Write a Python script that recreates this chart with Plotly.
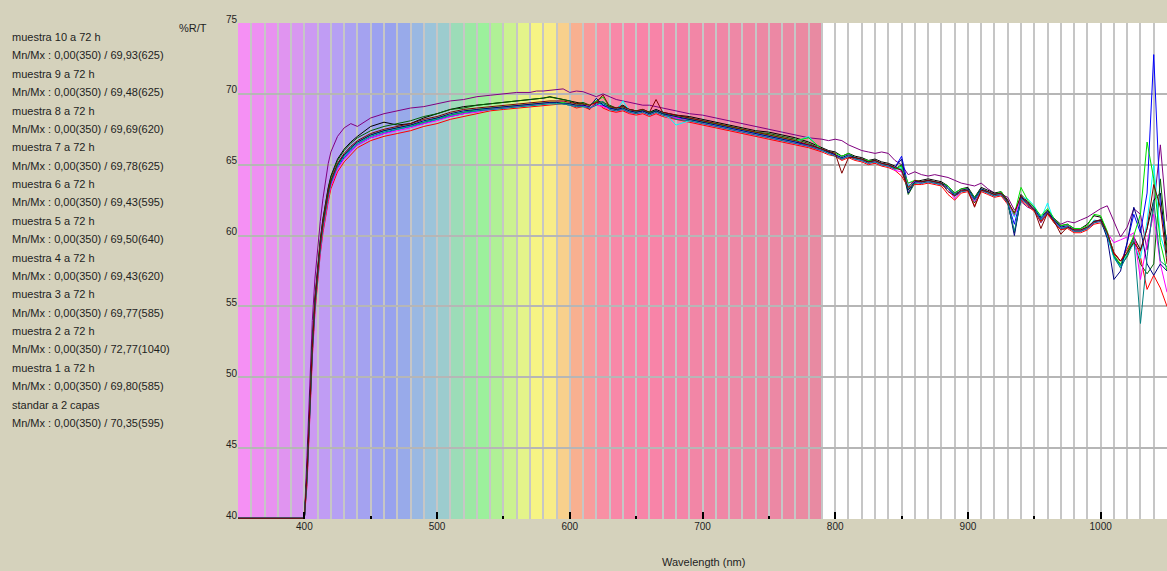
import numpy as np
import plotly.graph_objects as go

# ---------------- data ----------------
wavelength = [350, 398, 400, 402, 404, 406, 408, 410, 412, 414, 416, 418, 420, 425, 430, 435,
              440, 450, 460, 470, 480, 490, 500, 510, 520, 530, 540, 550, 560, 570,
              575, 580, 585, 590, 595, 600, 605, 610, 615, 620, 625, 630, 635, 640, 645, 650,
              655, 660, 665, 670, 675, 680,
              690, 700, 710, 720, 730, 740, 750, 760, 770, 780, 790,
              795, 800, 805, 810, 815, 820, 825, 830, 835, 840, 845, 850, 855, 860, 865, 870,
              875, 880, 885, 890, 895, 900, 905, 910, 915, 920, 925, 930, 935, 940, 945, 950,
              955, 960, 965, 970, 975, 980, 985, 990, 995, 1000, 1005, 1010, 1015, 1020, 1025,
              1030, 1035, 1040, 1045, 1050]

standar = [0, 0, 30, 44.5, 50.0, 54.0, 57.0, 59.2, 61.0, 62.6, 64.0, 65.1, 65.9, 67.0, 67.6, 67.9,
           67.7, 68.3, 68.6, 68.8, 69.0, 69.1, 69.3, 69.5, 69.6, 69.8, 69.9, 70.0, 70.1, 70.1,
           70.2, 70.2, 70.25, 70.3, 70.35, 70.1, 70.2, 70.15, 70.0, 69.8, 70.0, 69.8, 69.6, 69.5, 69.4, 69.3,
           69.2, 69.2, 69.1, 69.0, 68.9, 68.8,
           68.6, 68.5, 68.3, 68.1, 67.9, 67.7, 67.5, 67.3, 67.1, 66.9, 66.8,
           66.7, 66.8, 66.7, 66.4, 66.2, 66.0, 65.9, 65.8, 65.9, 65.8, 65.3, 65.0, 64.3, 64.5, 64.3, 64.2,
           64.3, 64.2, 64.1, 63.9, 63.7, 63.6, 63.5, 63.7, 63.3, 63.0, 62.9, 62.7, 61.8, 62.4, 62.0, 61.8,
           60.9, 61.6, 61.2, 60.8, 61.0, 60.9, 61.1, 61.3, 61.6, 61.9, 62.1, 61.0, 59.9, 60.6, 61.9,
           61.5, 59.0, 62.0, 66.4, 61.0]

muestra_1 = [0, 0, 28, 43.5, 48.5, 52.5, 55.6, 57.9, 59.7, 61.2, 62.4, 63.4, 64.2, 65.4, 66.1, 66.6,
             67.0, 67.7, 68.0, 67.8, 67.9, 68.3, 68.6, 68.9, 69.1, 69.2, 69.3, 69.4, 69.5, 69.6,
             69.6, 69.7, 69.80, 69.7, 69.6, 69.5, 69.4, 69.3, 68.9, 69.4, 69.3, 69.1, 69.0, 69.2, 68.9, 68.8,
             68.9, 68.7, 68.9, 68.7, 68.6, 68.5,
             68.4, 68.2, 68.0, 67.8, 67.6, 67.4, 67.3, 67.1, 66.9, 66.6, 66.2,
             66.0, 65.9, 65.6, 65.8, 65.6, 65.5, 65.3, 65.4, 65.2, 65.1, 64.9, 64.6, 63.2, 63.8, 63.9, 64.0,
             63.9, 63.8, 63.5, 63.0, 63.3, 63.4, 62.7, 63.4, 63.2, 63.0, 63.1, 62.5, 61.4, 62.9, 62.4, 62.0,
             61.3, 61.8, 61.2, 60.7, 60.8, 60.5, 60.5, 60.8, 61.4, 61.3, 60.2, 58.8, 58.2, 58.8, 59.9,
             59.0, 60.5, 62.5, 63.0, 58.5]

muestra_2 = [0, 0, 27, 42.8, 47.8, 51.8, 55.0, 57.3, 59.1, 60.6, 61.8, 62.8, 63.6, 64.8, 65.5, 66.0,
             66.4, 66.9, 67.2, 67.5, 67.7, 67.9, 68.2, 68.4, 68.6, 68.8, 68.9, 69.0, 69.1, 69.2,
             69.2, 69.3, 69.3, 69.4, 69.3, 69.2, 69.1, 69.2, 69.0, 69.3, 69.2, 69.0, 68.9, 68.9, 68.7, 68.7,
             68.8, 68.6, 68.8, 68.6, 68.4, 68.3,
             68.2, 68.0, 67.8, 67.6, 67.4, 67.2, 67.0, 66.8, 66.6, 66.3, 66.0,
             65.8, 65.7, 65.4, 65.6, 65.4, 65.3, 65.1, 65.2, 65.0, 64.9, 64.8, 65.6, 63.5, 63.8, 63.7, 63.8,
             63.7, 63.6, 63.3, 62.8, 63.1, 63.2, 62.5, 63.2, 63.0, 62.8, 62.9, 62.3, 60.8, 62.7, 62.2, 61.8,
             61.1, 61.6, 61.0, 60.5, 60.6, 60.3, 60.3, 60.5, 60.9, 61.1, 60.0, 58.5, 57.8, 59.5, 61.5,
             60.2, 63.0, 72.77, 62.0, 59.6]

muestra_3 = [0, 0, 27, 43.2, 48.3, 52.3, 55.5, 57.8, 59.6, 61.1, 62.3, 63.3, 64.1, 65.3, 66.0, 66.5,
             66.9, 67.4, 67.7, 67.9, 68.1, 68.4, 68.6, 68.9, 69.0, 69.2, 69.3, 69.4, 69.5, 69.6,
             69.6, 69.7, 69.77, 69.7, 69.6, 69.5, 69.3, 69.4, 69.2, 69.5, 69.4, 69.2, 69.0, 69.1, 68.9, 68.8,
             68.8, 68.7, 68.8, 68.6, 68.5, 68.5,
             68.3, 68.1, 67.9, 67.7, 67.5, 67.3, 67.2, 67.0, 66.8, 66.5, 66.1,
             65.9, 65.7, 65.4, 65.6, 65.5, 65.3, 65.2, 65.2, 65.0, 64.9, 64.7, 65.0, 62.9, 63.7, 63.8, 63.8,
             63.7, 63.6, 63.3, 62.8, 63.1, 63.2, 62.3, 63.2, 63.0, 62.8, 62.9, 62.3, 60.2, 62.6, 62.2, 61.8,
             61.0, 61.6, 60.9, 60.4, 60.6, 60.3, 60.3, 60.5, 61.0, 61.1, 60.0, 58.6, 57.9, 58.5, 59.6,
             58.0, 57.3, 58.0, 64.0, 59.0]

muestra_4 = [0, 0, 25, 42.4, 47.4, 51.4, 54.6, 56.9, 58.7, 60.2, 61.4, 62.4, 63.3, 64.5, 65.2, 65.7,
             66.2, 66.7, 67.0, 67.2, 67.4, 67.7, 67.9, 68.2, 68.4, 68.6, 68.8, 68.9, 69.0, 69.1,
             69.1, 69.2, 69.2, 69.3, 69.3, 69.2, 69.0, 69.1, 68.9, 69.43, 69.0, 68.8, 68.7, 68.8, 68.6, 68.5,
             68.6, 68.4, 68.6, 68.4, 68.3, 68.2,
             68.0, 67.8, 67.6, 67.4, 67.2, 67.0, 66.8, 66.6, 66.4, 66.2, 65.9,
             65.7, 65.6, 65.3, 65.5, 65.3, 65.2, 65.0, 65.1, 64.9, 64.8, 64.6, 64.2, 63.4, 63.6, 63.6, 63.7,
             63.6, 63.5, 62.9, 62.5, 63.0, 63.1, 62.1, 63.1, 62.9, 62.7, 62.8, 62.2, 61.6, 62.5, 62.1, 61.7,
             61.0, 61.5, 60.9, 60.4, 60.5, 60.2, 60.2, 60.4, 60.8, 60.9, 60.1, 58.8, 58.2, 59.0, 59.9,
             58.5, 56.2, 57.2, 56.3, 55.0]

muestra_5 = [0, 0, 27, 42.9, 47.9, 51.9, 55.1, 57.4, 59.2, 60.7, 61.9, 62.9, 63.7, 64.9, 65.6, 66.1,
             66.5, 67.0, 67.3, 67.5, 67.7, 68.0, 68.2, 68.5, 68.7, 68.8, 68.9, 69.0, 69.1, 69.2,
             69.2, 69.3, 69.3, 69.3, 69.3, 69.2, 69.1, 69.1, 69.0, 69.2, 69.3, 68.9, 68.8, 69.50, 68.8, 68.6,
             68.7, 68.5, 68.7, 68.5, 68.3, 67.8,
             68.1, 68.0, 67.8, 67.6, 67.4, 67.2, 67.0, 66.8, 66.6, 67.0, 66.0,
             65.8, 65.7, 65.5, 65.6, 65.4, 65.3, 65.1, 65.2, 65.0, 64.9, 64.7, 64.8, 63.5, 63.8, 63.7, 63.8,
             63.7, 63.6, 63.3, 62.9, 63.1, 63.2, 62.6, 63.2, 63.0, 62.8, 63.0, 62.3, 61.3, 62.7, 62.6, 62.1,
             61.2, 62.3, 61.0, 60.6, 60.6, 60.3, 60.3, 60.5, 61.1, 61.0, 60.0, 58.4, 57.8, 58.7, 59.4,
             58.4, 61.0, 65.0, 60.0, 58.5]

muestra_6 = [0, 0, 26, 42.6, 47.6, 51.6, 54.8, 57.1, 58.9, 60.4, 61.6, 62.6, 63.5, 64.7, 65.4, 65.9,
             66.4, 66.9, 67.2, 67.4, 67.6, 67.9, 68.1, 68.4, 68.6, 68.7, 68.9, 69.0, 69.1, 69.2,
             69.3, 69.3, 69.4, 69.4, 69.43, 69.3, 69.1, 69.2, 69.0, 69.2, 69.1, 68.9, 68.8, 68.9, 68.7, 68.6,
             68.7, 68.5, 68.7, 68.5, 68.4, 68.3,
             68.1, 67.9, 67.7, 67.5, 67.3, 67.1, 66.9, 66.7, 66.5, 66.3, 66.0,
             65.8, 65.7, 65.4, 65.6, 65.4, 65.3, 65.1, 65.2, 65.0, 64.9, 64.6, 64.5, 63.7, 63.8, 63.7, 63.8,
             63.7, 63.6, 63.3, 62.6, 63.1, 63.2, 62.4, 63.2, 63.0, 62.8, 62.9, 62.3, 61.4, 62.6, 62.2, 61.8,
             61.1, 61.6, 61.0, 60.5, 60.6, 60.3, 60.3, 60.5, 60.9, 61.0, 60.2, 59.5, 59.7, 59.9, 60.2,
             56.9, 59.5, 61.5, 58.0, 56.0]

muestra_7 = [0, 0, 26, 42.8, 47.8, 51.8, 55.0, 57.4, 59.2, 60.7, 61.9, 62.9, 63.8, 65.0, 65.7, 66.2,
             66.6, 67.1, 67.4, 67.6, 67.8, 68.0, 68.3, 68.5, 68.7, 68.9, 69.0, 69.1, 69.2, 69.3,
             69.3, 69.4, 69.4, 69.4, 69.4, 69.3, 69.2, 69.3, 69.2, 69.5, 69.78, 69.1, 68.9, 69.0, 68.8, 68.7,
             68.9, 68.6, 68.8, 68.6, 68.5, 68.4,
             68.2, 68.0, 67.9, 67.7, 67.5, 67.3, 67.1, 66.9, 66.7, 66.9, 66.1,
             65.9, 65.8, 65.6, 65.8, 65.5, 65.4, 65.3, 65.3, 65.1, 65.0, 64.7, 64.9, 63.7, 63.9, 63.8, 63.9,
             63.8, 63.7, 63.5, 63.0, 63.3, 63.3, 62.7, 63.3, 63.1, 62.9, 63.1, 62.4, 61.5, 63.4, 62.5, 62.0,
             61.4, 61.9, 61.2, 60.7, 60.8, 60.5, 60.5, 60.7, 61.5, 61.4, 60.3, 58.6, 58.0, 58.8, 60.0,
             61.5, 66.6, 64.0, 59.5, 57.5]

muestra_8 = [0, 0, 27, 43.0, 48.0, 52.0, 55.2, 57.5, 59.3, 60.8, 62.0, 63.0, 63.8, 65.0, 65.7, 66.2,
             66.6, 67.1, 67.4, 67.6, 67.8, 68.1, 68.3, 68.6, 68.8, 68.9, 69.0, 69.1, 69.2, 69.3,
             69.3, 69.4, 69.4, 69.4, 69.3, 69.3, 69.2, 69.2, 69.1, 69.69, 69.2, 69.0, 68.9, 69.0, 68.8, 68.7,
             68.8, 68.6, 68.8, 68.6, 68.5, 68.4,
             68.2, 68.0, 67.8, 67.6, 67.4, 67.2, 67.0, 66.8, 66.6, 66.4, 66.1,
             65.9, 65.7, 65.5, 65.7, 65.5, 65.4, 65.2, 65.3, 65.1, 65.0, 64.8, 65.4, 63.0, 63.8, 63.8, 63.9,
             63.8, 63.7, 63.4, 62.9, 63.2, 63.3, 62.6, 63.3, 63.1, 62.9, 63.0, 62.4, 60.0, 62.7, 62.3, 61.9,
             61.2, 61.7, 61.1, 60.6, 60.7, 60.4, 60.4, 60.6, 61.0, 61.1, 59.8, 56.9, 57.5, 59.5, 62.0,
             60.5, 58.0, 57.2, 58.0, 57.5]

muestra_9 = [0, 0, 26, 42.8, 47.8, 51.8, 55.0, 57.3, 59.1, 60.6, 61.8, 62.8, 63.7, 64.9, 65.6, 66.1,
             66.5, 67.0, 67.3, 67.5, 67.7, 68.0, 68.2, 68.5, 68.7, 68.8, 68.9, 69.0, 69.1, 69.2,
             69.2, 69.3, 69.3, 69.3, 69.3, 69.2, 69.1, 69.1, 69.0, 69.2, 69.48, 68.9, 68.8, 68.9, 68.7, 68.6,
             68.7, 68.5, 68.7, 68.5, 68.4, 68.2,
             68.1, 67.9, 67.7, 67.5, 67.3, 67.1, 66.9, 66.7, 66.5, 66.3, 66.0,
             65.8, 65.6, 65.4, 65.6, 65.4, 65.3, 65.1, 65.2, 65.0, 64.9, 64.7, 64.7, 63.3, 63.7, 63.7, 63.8,
             63.7, 63.6, 63.3, 62.8, 63.1, 63.2, 62.5, 63.2, 63.0, 62.8, 62.9, 62.3, 60.3, 62.6, 62.2, 61.8,
             61.1, 61.6, 61.0, 60.5, 60.6, 60.3, 60.3, 60.5, 60.9, 61.0, 60.1, 58.5, 57.7, 58.6, 59.8,
             53.8, 58.5, 62.5, 58.2, 57.8]

muestra_10 = [0, 0, 27, 43.1, 48.1, 52.1, 55.3, 57.6, 59.4, 60.9, 62.1, 63.1, 63.9, 65.1, 65.8, 66.3,
              66.7, 67.2, 67.5, 67.7, 67.9, 68.2, 68.4, 68.7, 68.9, 69.0, 69.1, 69.2, 69.3, 69.4,
              69.4, 69.5, 69.5, 69.5, 69.5, 69.4, 69.3, 69.3, 69.2, 69.4, 69.93, 69.1, 69.0, 69.1, 68.9, 68.8,
              68.9, 68.7, 69.6, 68.7, 68.6, 68.5,
              68.3, 68.1, 67.9, 67.7, 67.5, 67.3, 67.1, 66.9, 66.7, 66.4, 66.1,
              65.9, 65.8, 64.4, 65.5, 65.5, 65.4, 65.2, 65.3, 65.1, 65.0, 64.8, 64.6, 63.4, 63.9, 63.8, 63.9,
              63.8, 63.7, 63.1, 62.8, 63.2, 63.2, 62.0, 63.2, 63.1, 62.9, 63.0, 62.4, 61.6, 62.8, 62.3, 61.8,
              60.5, 61.6, 61.0, 60.1, 60.6, 60.4, 60.4, 60.6, 61.0, 61.1, 60.2, 58.7, 58.2, 58.8, 59.5,
              58.9, 60.5, 63.6, 62.0, 58.0]

series_names = ["muestra 10 a 72 h", "muestra 9 a 72 h", "muestra 8 a 72 h", "muestra 7 a 72 h",
                "muestra 6 a 72 h", "muestra 5 a 72 h", "muestra 4 a 72 h", "muestra 3 a 72 h",
                "muestra 2 a 72 h", "muestra 1 a 72 h", "standar a 2 capas"]
series_values = [muestra_10, muestra_9, muestra_8, muestra_7, muestra_6, muestra_5,
                 muestra_4, muestra_3, muestra_2, muestra_1, standar]
series_colors = ["#800000", "#008080", "#000080", "#00e000", "#ff00ff", "#00ffff",
                 "#ff0000", "#006400", "#0000ff", "#000000", "#800080"]

band_start = list(range(350, 790, 10))
band_colors = ["#f590f4", "#ee90f2", "#e892f0", "#e094f0", "#d898f0", "#cc9af2", "#c09cf4", "#b6a0f4",
               "#aca2f2", "#a4a2f0", "#9ca2f0", "#98a2ee", "#98aaea", "#9ab8e2", "#9cc4da", "#9cccce",
               "#9cdcb8", "#9ce8a4", "#9cf09c", "#b0f096", "#ccf290", "#e4f48a", "#f6f484", "#f8ec88",
               "#f8d08c", "#f8b090", "#f89c9c", "#f890a4", "#f888a8", "#f886a8", "#f884a8", "#f884a8",
               "#f484a8", "#f484a8", "#f286a6", "#f086a6", "#f086a6", "#ee88a6", "#ee88a4", "#ec88a4",
               "#ec88a4", "#ea8aa4", "#ea8aa2", "#e88aa2"]

x_major = [400, 500, 600, 700, 800, 900, 1000]
x_half = [450, 550, 650, 750, 850, 950]
y_ticks = [40, 45, 50, 55, 60, 65, 70, 75]
X_RANGE = [350, 1050]
Y_RANGE = [40, 75]

# ---------------- layout geometry ----------------
W, H = 1167, 571
L, T = 238, 23
PW, PH = 929, 496
B = T + PH
BG = "#d5d2bc"


def px_x(p):
    return (p - L) / PW


def px_y(p):
    return (B - p) / PH


fig = go.Figure()

order = list(range(len(series_values)))[::-1]
for i in order:
    y = np.clip(np.array(series_values[i], dtype=float), Y_RANGE[0] + 0.05, None)
    fig.add_trace(go.Scatter(x=wavelength, y=y, mode="lines", name=series_names[i],
                             line=dict(color=series_colors[i], width=1),
                             showlegend=False, hoverinfo="skip"))

# dummy trace for the overlay axis carrying the half-century ticks
fig.add_trace(go.Scatter(x=[None], y=[None], xaxis="x2", showlegend=False, hoverinfo="skip"))

shapes = []
for s, c in zip(band_start, band_colors):
    shapes.append(dict(type="rect", xref="x", yref="paper", x0=s, x1=s + 10, y0=0, y1=1,
                       fillcolor=c, line=dict(width=0), layer="below"))

font = "Liberation Sans, Arial, sans-serif"
txt_col = "#1e1e1e"

annotations = []
line_y0 = 37
line_step = 18.38
k = 0
for name, vals in zip(series_names, series_values):
    arr = np.array(vals, dtype=float)
    imax = int(np.argmax(arr))
    imin = int(np.argmin(arr))
    mn = f"{arr[imin]:.2f}".replace(".", ",")
    mx = f"{arr[imax]:.2f}".replace(".", ",")
    lines = [name, f"Mn/Mx : {mn}({wavelength[imin]}) / {mx}({wavelength[imax]})"]
    for t in lines:
        annotations.append(dict(text=t, xref="paper", yref="paper", x=px_x(10), y=px_y(line_y0 + k * line_step),
                                xanchor="left", yanchor="middle", showarrow=False,
                                font=dict(family=font, size=11, color=txt_col)))
        k += 1

annotations.append(dict(text="%R/T", xref="paper", yref="paper", x=px_x(193), y=px_y(28),
                        xanchor="center", yanchor="middle", showarrow=False,
                        font=dict(family=font, size=11, color=txt_col)))
annotations.append(dict(text="Wavelength (nm)", xref="paper", yref="paper", x=px_x(703), y=px_y(562),
                        xanchor="center", yanchor="middle", showarrow=False,
                        font=dict(family=font, size=11, color=txt_col)))

fig.update_layout(
    width=W, height=H,
    margin=dict(l=L, r=W - L - PW, t=T, b=H - B, pad=0),
    paper_bgcolor=BG,
    plot_bgcolor="#ffffff",
    shapes=shapes,
    annotations=annotations,
    showlegend=False,
    xaxis=dict(range=X_RANGE, tickvals=x_major, ticks="inside", ticklen=7, tickwidth=2,
               tickcolor="#000000", showgrid=True, gridcolor="#c6c6c6", gridwidth=1.5,
               minor=dict(dtick=10, tick0=350, showgrid=True, gridcolor="#c6c6c6", gridwidth=1.5, ticks=""),
               zeroline=False, showline=False,
               tickfont=dict(family=font, size=10, color=txt_col)),
    xaxis2=dict(range=X_RANGE, overlaying="x", anchor="y", side="bottom", tickvals=x_half,
                ticks="inside", ticklen=3, tickwidth=2, tickcolor="#000000",
                showticklabels=False, showgrid=False, zeroline=False, showline=False),
    yaxis=dict(range=Y_RANGE, tickvals=y_ticks, ticks="", showgrid=True, gridcolor="#b6b6b6",
               gridwidth=1.5, zeroline=False, showline=False, ticklabelshift=-4,
               tickfont=dict(family=font, size=10, color=txt_col)),
)

page_fix = ("document.body.style.margin='0';document.body.style.padding='0';"
            "document.body.style.overflow='hidden';document.body.style.background='" + BG + "';"
            "document.documentElement.style.background='" + BG + "';")
fig.write_html("out.html", post_script=page_fix, config={"displayModeBar": False})
